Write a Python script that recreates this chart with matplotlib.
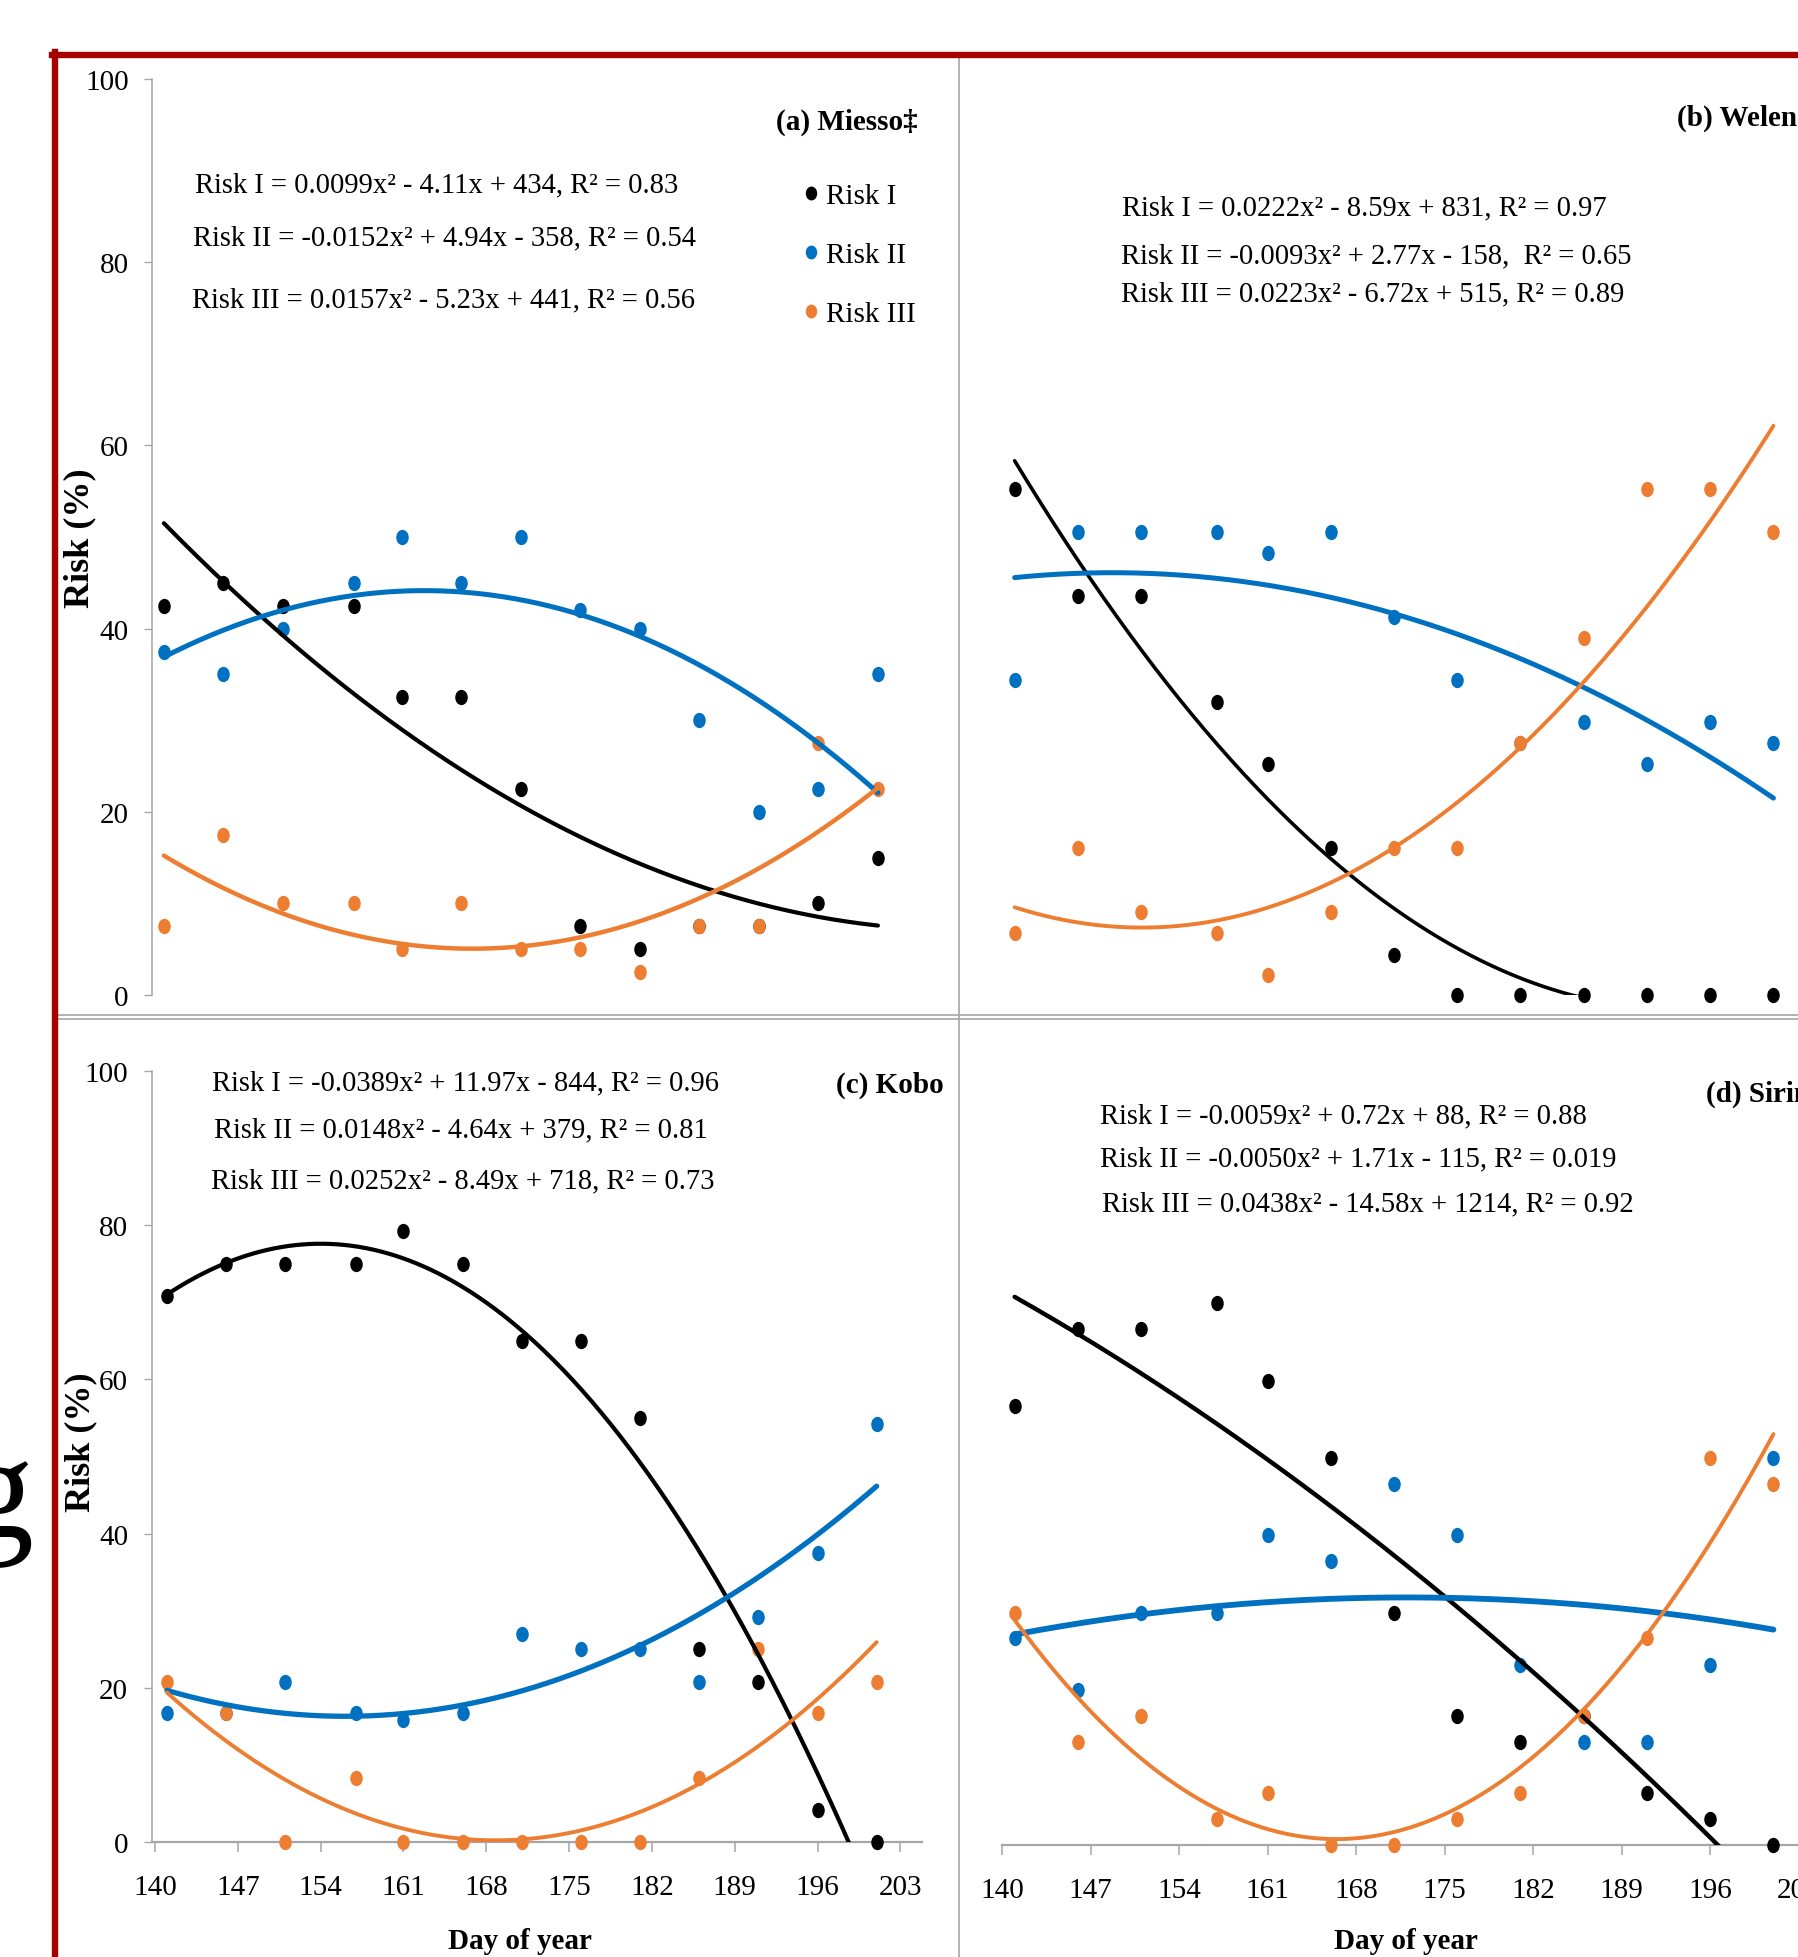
import numpy as np
import matplotlib.pyplot as plt
from matplotlib.lines import Line2D
from matplotlib.path import Path

plt.rcParams['font.family'] = ['Liberation Serif', 'DejaVu Serif']

# survey dates (day of year)
days = np.array([141, 146, 151, 157, 161, 166, 171, 176, 181, 186, 191, 196, 201])

# (a) Miesso - risk in %
miesso_r1 = [42.5, 45, 42.5, 42.5, 32.5, 32.5, 22.5, 7.5, 5, 7.5, 7.5, 10, 15]
miesso_r2 = [37.5, 35, 40, 45, 50, 45, 50, 42, 40, 30, 20, 22.5, 35]
miesso_r3 = [7.5, 17.5, 10, 10, 5, 10, 5, 5, 2.5, 7.5, 7.5, 27.5, 22.5]

# (b) Welenchiti
welen_r1 = [55.2, 43.6, 43.6, 32.0, 25.2, 16.0, 4.4, 0, 0, 0, 0, 0, 0]
welen_r2 = [34.4, 50.5, 50.5, 50.5, 48.2, 50.5, 41.3, 34.4, 27.5, 29.8, 25.2, 29.8, 27.5]
welen_r3 = [6.8, 16.0, 9.1, 6.8, 2.2, 9.1, 16.0, 16.0, 27.5, 39.0, 55.2, 55.2, 50.5]

# (c) Kobo
kobo_r1 = [70.8, 75, 75, 75, 79.2, 75, 65, 65, 55, 25, 20.8, 4.2, 0]
kobo_r2 = [16.7, 16.7, 20.8, 16.7, 15.8, 16.7, 27.0, 25, 25, 20.8, 29.2, 37.5, 54.2]
kobo_r3 = [20.8, 16.7, 0, 8.3, 0, 0, 0, 0, 0, 8.3, 25, 16.7, 20.8]

# (d) Sirinka
sirin_r1 = [56.7, 66.7, 66.7, 70.0, 60.0, 50.0, 30.0, 16.7, 13.3, 16.7, 6.7, 3.3, 0]
sirin_r2 = [26.7, 20.0, 30.0, 30.0, 40.0, 36.7, 46.7, 40.0, 23.3, 13.3, 13.3, 23.3, 50.0]
sirin_r3 = [30.0, 13.3, 16.7, 3.3, 6.7, 0, 0, 3.3, 6.7, 16.7, 26.7, 50.0, 46.7]

titles = ["(a) Miesso\u2021", "(b) Welenchiti", "(c) Kobo", "(d) Sirinka"]
equations = [
    ["Risk I = 0.0099x\u00b2 - 4.11x + 434, R\u00b2 = 0.83",
     "Risk II = -0.0152x\u00b2 + 4.94x - 358, R\u00b2 = 0.54",
     "Risk III = 0.0157x\u00b2 - 5.23x + 441, R\u00b2 = 0.56"],
    ["Risk I = 0.0222x\u00b2 - 8.59x + 831, R\u00b2 = 0.97",
     "Risk II = -0.0093x\u00b2 + 2.77x - 158,  R\u00b2 = 0.65",
     "Risk III = 0.0223x\u00b2 - 6.72x + 515, R\u00b2 = 0.89"],
    ["Risk I = -0.0389x\u00b2 + 11.97x - 844, R\u00b2 = 0.96",
     "Risk II = 0.0148x\u00b2 - 4.64x + 379, R\u00b2 = 0.81",
     "Risk III = 0.0252x\u00b2 - 8.49x + 718, R\u00b2 = 0.73"],
    ["Risk I = -0.0059x\u00b2 + 0.72x + 88, R\u00b2 = 0.88",
     "Risk II = -0.0050x\u00b2 + 1.71x - 115, R\u00b2 = 0.019",
     "Risk III = 0.0438x\u00b2 - 14.58x + 1214, R\u00b2 = 0.92"],
]
series_names = ["Risk I", "Risk II", "Risk III"]
colors = ["#000000", "#0070C0", "#ED7D31"]
yticks = [0, 20, 40, 60, 80, 100]
xticks = [140, 147, 154, 161, 168, 175, 182, 189, 196, 203]

data = [
    [miesso_r1, miesso_r2, miesso_r3],
    [welen_r1, welen_r2, welen_r3],
    [kobo_r1, kobo_r2, kobo_r3],
    [sirin_r1, sirin_r2, sirin_r3],
]

W, H = 1799, 1958
fig = plt.figure(figsize=(W / 100, H / 100), dpi=100)
GRAY = "#A6A6A6"
RED = "#A50000"


def px_axes(l, t, r, b):
    return fig.add_axes([l / W, 1 - b / H, (r - l) / W, (b - t) / H])


def ftext(x, y, s, **kw):
    return fig.text(x / W, 1 - y / H, s, **kw)


def fline(xs, ys, **kw):
    fig.add_artist(Line2D([x / W for x in xs], [1 - y / H for y in ys],
                          transform=fig.transFigure, **kw))


# slightly tall dots like the squeezed original
circ = Path.unit_circle()
dot = Path(circ.vertices * [0.8, 1.0], circ.codes)

# panel boxes in pixels: left, top, right, bottom, and x limits
rects = [(152, 80, 925.5, 996), (1002, 80, 1824, 996),
         (151.5, 1072, 921.6, 1843), (1002, 1072, 1824, 1846)]
xlims = [(140, 205), (140, 205), (139.7, 204.8), (140, 205)]
line_w = [[3.0, 3.6, 3.2], [2.6, 3.6, 2.8], [3.0, 3.8, 2.8], [3.2, 4.2, 2.8]]

title_pos = [(918, 122, 'right'), (1677, 118, 'left'), (836, 1085, 'left'), (1706, 1094, 'left')]
eq_x = [[195, 193, 192], [1122, 1121, 1121], [212, 214, 211], [1100, 1100, 1102]]
eq_y = [[185, 238, 300], [208, 256, 294], [1083, 1130, 1181], [1116, 1159, 1204]]

axes = []
for i in range(4):
    ax = px_axes(*rects[i])
    ax.set_xlim(*xlims[i])
    ax.set_ylim(0, 100)
    ax.patch.set_visible(False)
    for s in ax.spines.values():
        s.set_visible(False)

    xs = np.linspace(days[0], days[-1], 300)
    for k in range(3):
        vals = np.array(data[i][k], dtype=float)
        ax.plot(days, vals, ls='none', marker=dot, ms=10, color=colors[k],
                clip_on=False, zorder=3 + k)
        coef = np.polyfit(days, vals, 2)
        ax.plot(xs, np.polyval(coef, xs), color=colors[k], lw=line_w[i][k],
                zorder=6 + k, solid_capstyle='round')

    left = i in (0, 2)
    bottom = i in (2, 3)
    if left:
        ax.spines['left'].set_visible(True)
        ax.spines['left'].set_color(GRAY)
        ax.spines['left'].set_linewidth(1.1)
        ax.set_yticks(yticks)
        ax.tick_params(axis='y', direction='out', length=5.8, width=1.0,
                       color=GRAY, pad=11, labelsize=21)
    else:
        ax.set_yticks([])
    if bottom:
        ax.spines['bottom'].set_visible(True)
        ax.spines['bottom'].set_color(GRAY)
        ax.spines['bottom'].set_linewidth(1.6)
        ax.set_xticks(xticks)
        ax.tick_params(axis='x', direction='out', length=7.2, width=1.1,
                       color=GRAY, pad=15.5, labelsize=21)
    else:
        ax.set_xticks([])

    tx, ty, ha = title_pos[i]
    ftext(tx, ty, titles[i], fontsize=21, fontweight='bold', ha=ha, va='center')
    for j in range(3):
        ftext(eq_x[i][j], eq_y[i][j], equations[i][j], fontsize=20.6,
              ha='left', va='center')
    axes.append(ax)

# legend of panel (a)
handles = [Line2D([0], [0], marker=dot, ls='none', color=c, ms=9) for c in colors]
axes[0].legend(handles, series_names, loc='upper left',
               bbox_to_anchor=(804 / W, 1 - 183.5 / H), bbox_transform=fig.transFigure,
               frameon=False, fontsize=21, handlelength=0.5, handletextpad=0.25,
               labelspacing=1.12, borderpad=0, borderaxespad=0)

# axis titles
for x, y in [(80, 538), (81, 1442)]:
    ftext(x, y, "Risk (%)", fontsize=26, fontweight='bold', rotation=90,
          ha='center', va='center')
for x in (520, 1406):
    ftext(x, 1942, "Day of year", fontsize=21, fontweight='bold',
          ha='center', va='center')

# panel separators and the red frame around the figure
fline([959, 959], [59, H], color=GRAY, lw=1.2)
fline([58, W], [1016, 1016], color=GRAY, lw=1.2)
fline([58, W], [1020, 1020], color=GRAY, lw=1.2)
fline([52, W], [56, 56], color=RED, lw=4.6)
fline([55, 55], [53, H], color=RED, lw=4.6)

# letter of the page text next to the figure
ftext(34, 1537, "g", fontsize=105, ha='right', va='baseline')

fig.savefig("out.png", dpi=100)
